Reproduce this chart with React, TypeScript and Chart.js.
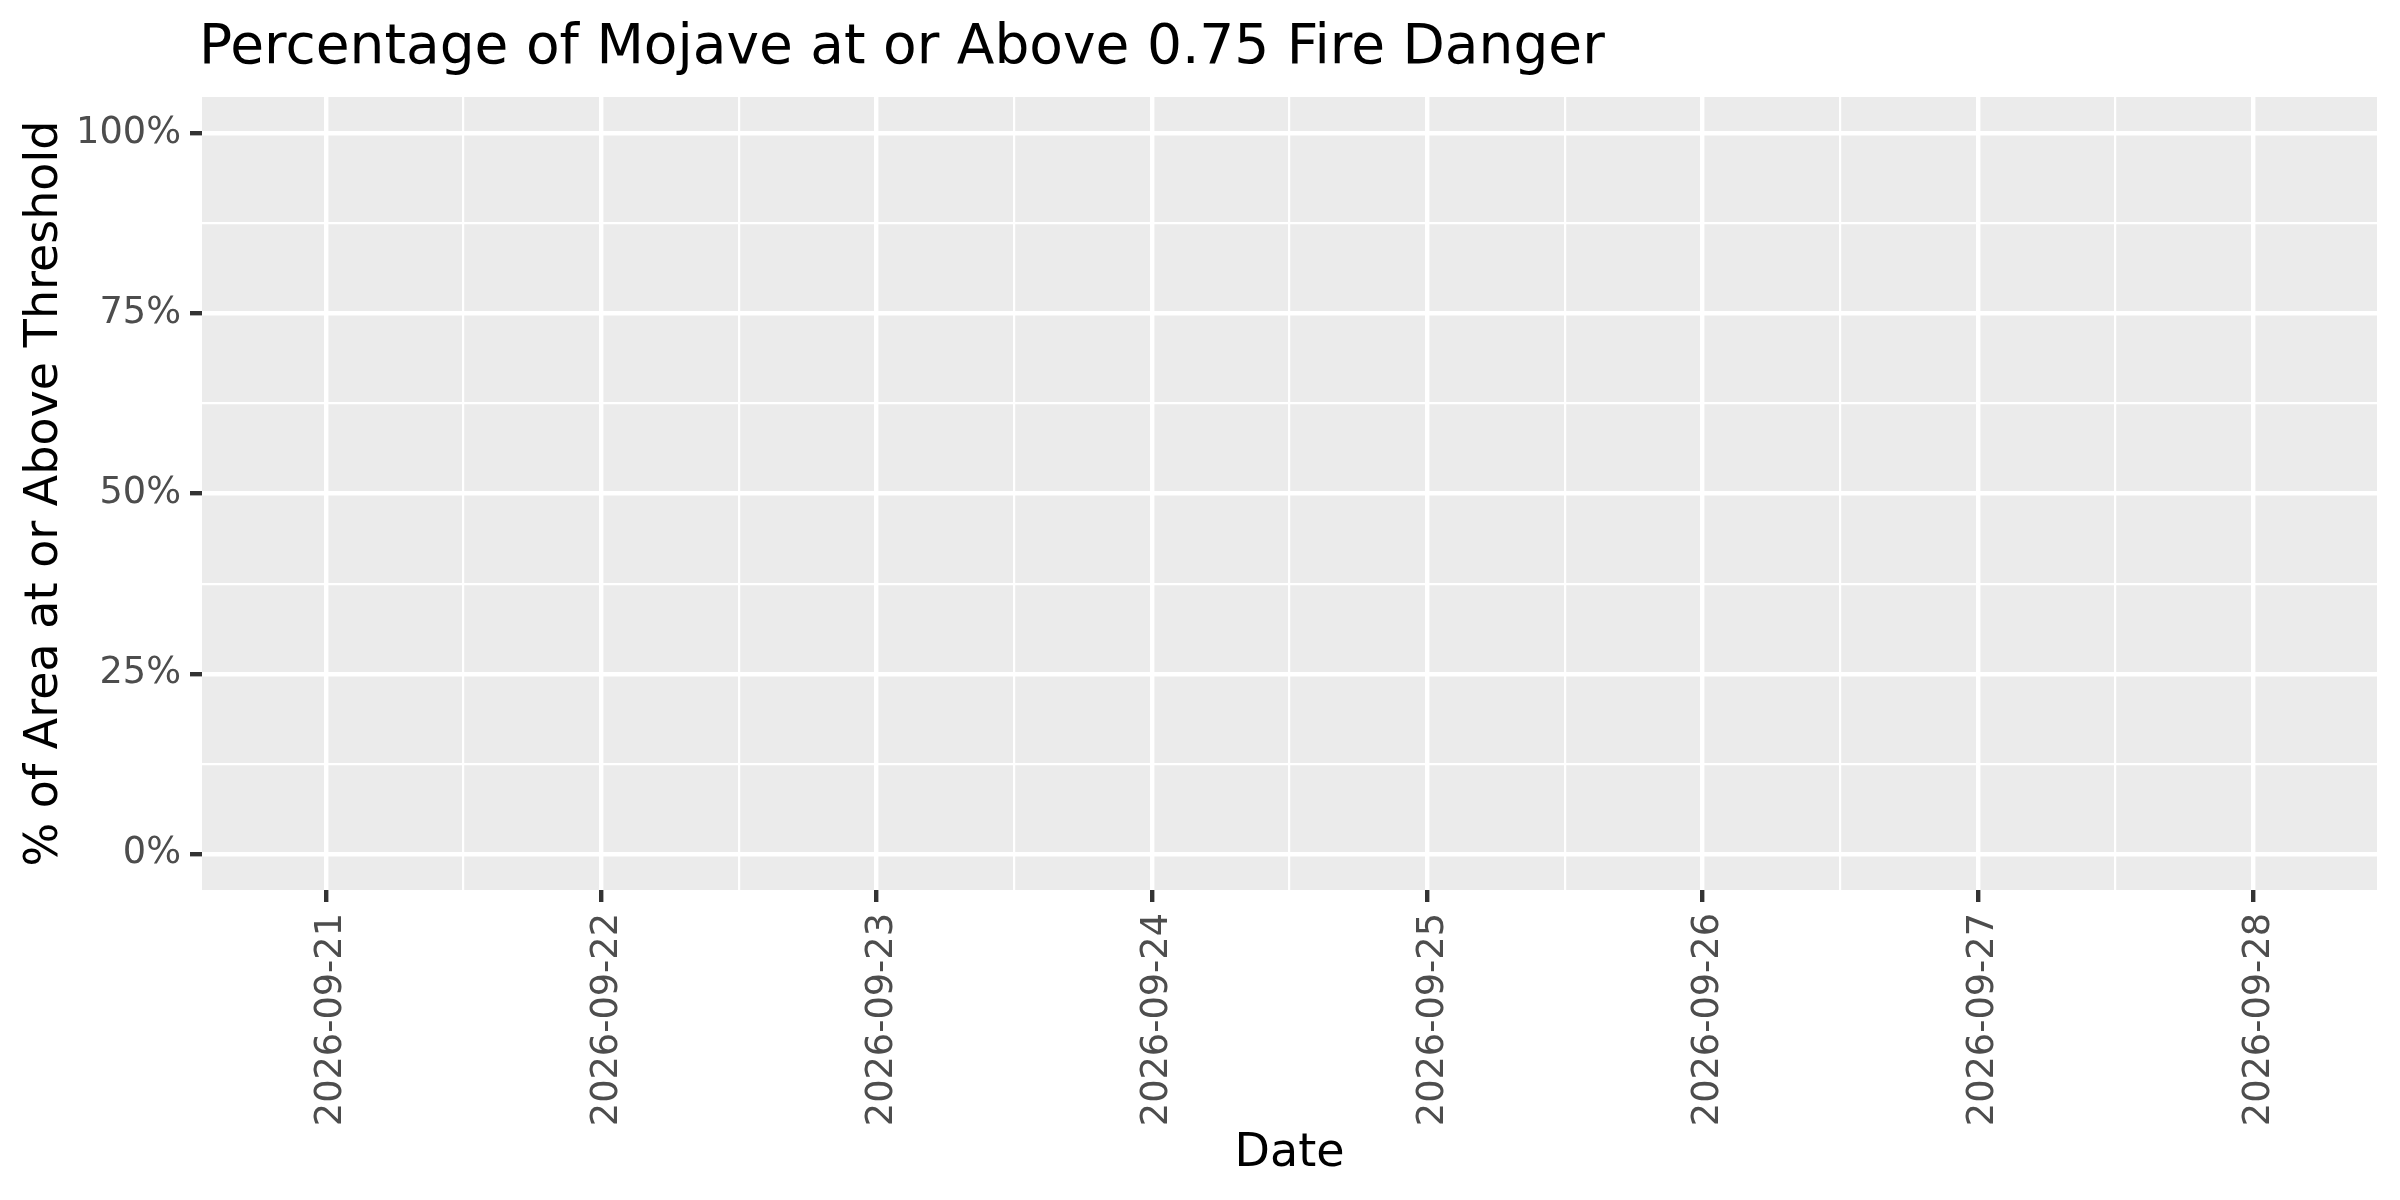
import React, { useEffect, useRef } from 'react';
import { Chart, registerables } from 'chart.js';

Chart.register(...registerables);

// Forecast days shown on the x axis
const dates = [
  '2026-09-21',
  '2026-09-22',
  '2026-09-23',
  '2026-09-24',
  '2026-09-25',
  '2026-09-26',
  '2026-09-27',
  '2026-09-28',
];
// % of area at or above 0.75 fire danger: nothing was plotted, every day is missing
const pctAbove: (number | null)[] = [null, null, null, null, null, null, null, null];
const yMajorTicks = [0, 25, 50, 75, 100];
const yMinorTicks = [12.5, 37.5, 62.5, 87.5];

const TITLE = 'Percentage of Mojave at or Above 0.75 Fire Danger';
const FONT = "'DejaVu Sans', sans-serif";

const panelPlugin = {
  id: 'panelBackground',
  beforeDraw(chart: Chart) {
    const { ctx, chartArea } = chart;
    ctx.save();
    ctx.fillStyle = '#ffffff';
    ctx.fillRect(0, 0, chart.width, chart.height);
    ctx.fillStyle = '#EBEBEB';
    ctx.fillRect(chartArea.left, chartArea.top, chartArea.right - chartArea.left, chartArea.bottom - chartArea.top);
    ctx.restore();
  },
  afterDraw(chart: Chart) {
    const { ctx } = chart;
    ctx.save();
    ctx.fillStyle = '#000000';
    ctx.font = `55px ${FONT}`;
    ctx.textAlign = 'left';
    ctx.textBaseline = 'alphabetic';
    ctx.fillText(TITLE, 199, 63);
    ctx.restore();
  },
};

const isMajorX = (v: number) => Number.isInteger(v);
const isMajorY = (v: number) => yMajorTicks.includes(v);

const App: React.FC = () => {
  const chartRef = useRef<HTMLCanvasElement>(null);
  const chartInstance = useRef<Chart | null>(null);

  useEffect(() => {
    document.body.style.margin = '0';
    if (!chartRef.current) return;
    if (chartInstance.current) chartInstance.current.destroy();

    const ctx = chartRef.current.getContext('2d');
    if (!ctx) return;

    // major ticks on each date, minor gridlines half way between
    const xTickValues: number[] = [];
    dates.forEach((_, i) => {
      xTickValues.push(i);
      if (i < dates.length - 1) xTickValues.push(i + 0.5);
    });
    const yTickValues = [...yMajorTicks, ...yMinorTicks].sort((a, b) => a - b);

    chartInstance.current = new Chart(ctx, {
      type: 'line',
      data: {
        datasets: [
          {
            label: '% of Area at or Above Threshold',
            data: dates.map((_, i) => ({ x: i, y: pctAbove[i] as any })),
            borderColor: '#000000',
            borderWidth: 3,
            pointRadius: 0,
            spanGaps: false,
          },
        ],
      },
      plugins: [panelPlugin],
      options: {
        responsive: false,
        devicePixelRatio: 1,
        animation: false,
        layout: { padding: { top: 97, right: 23, left: 0, bottom: 0 } },
        plugins: {
          legend: { display: false },
          tooltip: { enabled: false },
        },
        scales: {
          x: {
            type: 'linear',
            min: -0.45,
            max: dates.length - 1 + 0.45,
            afterBuildTicks: (scale: any) => {
              scale.ticks = xTickValues.map((v) => ({ value: v }));
            },
            afterFit: (scale: any) => {
              scale.height = 310;
            },
            border: { display: false },
            grid: {
              color: '#ffffff',
              lineWidth: (c: any) => (isMajorX(c.tick.value) ? 4.4 : 2.2),
              tickColor: (c: any) => (isMajorX(c.tick.value) ? '#333333' : 'rgba(0,0,0,0)'),
              tickWidth: 4.4,
              tickLength: 12,
            },
            ticks: {
              autoSkip: false,
              minRotation: 90,
              maxRotation: 90,
              padding: 11,
              labelOffset: 6,
              color: '#4D4D4D',
              font: { family: FONT, size: 36.7 },
              callback: (v: any) => (isMajorX(Number(v)) ? dates[Number(v)] : ''),
            },
            title: {
              display: true,
              text: 'Date',
              color: '#000000',
              font: { family: FONT, size: 46 },
              padding: { top: 0, bottom: 18 },
            },
          },
          y: {
            type: 'linear',
            min: -5,
            max: 105,
            afterBuildTicks: (scale: any) => {
              scale.ticks = yTickValues.map((v) => ({ value: v }));
            },
            afterFit: (scale: any) => {
              scale.width = 202;
            },
            border: { display: false },
            grid: {
              color: '#ffffff',
              lineWidth: (c: any) => (isMajorY(c.tick.value) ? 4.4 : 2.2),
              tickColor: (c: any) => (isMajorY(c.tick.value) ? '#333333' : 'rgba(0,0,0,0)'),
              tickWidth: 4.4,
              tickLength: 12,
            },
            ticks: {
              autoSkip: false,
              padding: 9,
              color: '#4D4D4D',
              font: { family: FONT, size: 36.7 },
              callback: (v: any) => (isMajorY(Number(v)) ? `${v}%` : ''),
            },
            title: {
              display: true,
              text: '% of Area at or Above Threshold',
              color: '#000000',
              font: { family: FONT, size: 46 },
              padding: { top: 17, bottom: 0 },
            },
          },
        },
      },
    });

    return () => {
      if (chartInstance.current) {
        chartInstance.current.destroy();
        chartInstance.current = null;
      }
    };
  }, []);

  return (
    <div style={{ width: 2400, height: 1200, background: '#ffffff' }}>
      <canvas ref={chartRef} width={2400} height={1200}></canvas>
    </div>
  );
};

export default App;
